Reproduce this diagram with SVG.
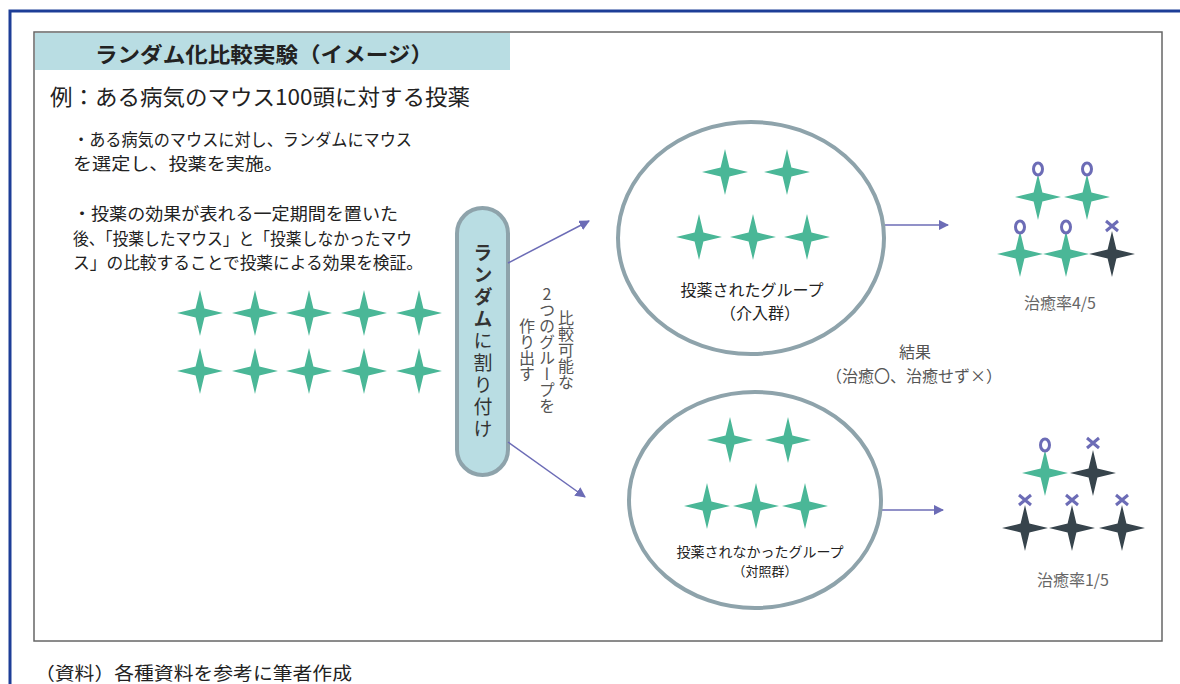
<svg xmlns="http://www.w3.org/2000/svg" xmlns:xlink="http://www.w3.org/1999/xlink" width="1180" height="684" viewBox="0 0 1180 684">
<style>
text{font-family:"Noto Sans CJK JP","Noto Sans",sans-serif;}
.t{fill:#222;}
.g{fill:#555;}
.grn{fill:#4ab797;}
.drk{fill:#37444c;}
.mk{fill:none;stroke:#6c6cb6;stroke-width:3;}
.circ{fill:#fff;stroke:#8ea3ab;stroke-width:4;}
.arr{stroke:#6c6cb6;stroke-width:1.5;fill:none;marker-end:url(#ah);}
.vt{writing-mode:vertical-rl;text-orientation:upright;}
</style>
<defs>
<marker id="ah" viewBox="0 0 10 10" refX="9" refY="5" markerWidth="7" markerHeight="7" orient="auto" markerUnits="strokeWidth">
<path d="M0,0 L10,5 L0,10 Z" fill="#6c6cb6"/>
</marker>
<path id="st" d="M0,-23 L4.4,-4.4 L23,0 L4.4,4.4 L0,23 L-4.4,4.4 L-23,0 L-4.4,-4.4 Z"/>
</defs>
<rect width="1180" height="684" fill="#fff"/>
<path d="M10,684 L10,11 L1180,11" fill="none" stroke="#1d3e97" stroke-width="3"/>
<rect x="34" y="32" width="1128" height="609" fill="none" stroke="#666" stroke-width="1.5"/>
<g id="title">
<rect x="35" y="33" width="475" height="37" fill="#b9dde3"/>
<text x="264" y="62" text-anchor="middle" font-size="21" font-weight="bold" class="t" textLength="338" lengthAdjust="spacingAndGlyphs">ランダム化比較実験（イメージ）</text>
</g>
<g id="subtitle">
<text x="50" y="105" font-size="22" class="t" textLength="420" lengthAdjust="spacingAndGlyphs">例：ある病気のマウス100頭に対する投薬</text>
</g>
<g id="description" font-size="17" class="t">
<text x="73" y="146" textLength="339" lengthAdjust="spacingAndGlyphs">・ある病気のマウスに対し、ランダムにマウス</text>
<text x="73" y="170" textLength="210" lengthAdjust="spacingAndGlyphs">を選定し、投薬を実施。</text>
<text x="73" y="220" textLength="325" lengthAdjust="spacingAndGlyphs">・投薬の効果が表れる一定期間を置いた</text>
<text x="73" y="245" textLength="339" lengthAdjust="spacingAndGlyphs">後、「投薬したマウス」と「投薬しなかったマウ</text>
<text x="73" y="269" textLength="350" lengthAdjust="spacingAndGlyphs">ス」の比較することで投薬による効果を検証。</text>
</g>
<g id="mice" class="grn">
<use xlink:href="#st" x="200" y="313"/>
<use xlink:href="#st" x="255" y="313"/>
<use xlink:href="#st" x="309" y="313"/>
<use xlink:href="#st" x="364" y="313"/>
<use xlink:href="#st" x="419" y="313"/>
<use xlink:href="#st" x="200" y="371"/>
<use xlink:href="#st" x="255" y="371"/>
<use xlink:href="#st" x="309" y="371"/>
<use xlink:href="#st" x="364" y="371"/>
<use xlink:href="#st" x="419" y="371"/>
</g>
<g id="random">
<rect x="457" y="208" width="51" height="267" rx="25.5" fill="#b9dde3" stroke="#8ea3ab" stroke-width="4"/>
<text x="483" y="342" text-anchor="middle" font-size="19" fill="#333" class="vt" letter-spacing="3"><tspan font-weight="bold">ランダム</tspan>に割り付け</text>
</g>
<g id="note" font-size="16" class="g">
<text x="566" y="350" text-anchor="middle" class="vt">比較可能な</text>
<text x="547" y="350" text-anchor="middle" class="vt">2つのグループを</text>
<text x="527" y="350" text-anchor="middle" class="vt">作り出す</text>
</g>
<g id="connectors">
<line x1="508" y1="263" x2="589" y2="221" class="arr"/>
<line x1="508" y1="442" x2="585" y2="497" class="arr"/>
<line x1="885" y1="225" x2="948" y2="225" class="arr"/>
<line x1="882" y1="510" x2="943" y2="510" class="arr"/>
</g>
<g id="treated">
<ellipse cx="751" cy="238" rx="133" ry="116" class="circ"/>
<g class="grn">
<use xlink:href="#st" x="725" y="172"/>
<use xlink:href="#st" x="787" y="172"/>
<use xlink:href="#st" x="699" y="237"/>
<use xlink:href="#st" x="753" y="237"/>
<use xlink:href="#st" x="807" y="237"/>
</g>
<text x="752" y="296" text-anchor="middle" font-size="16" class="t">投薬されたグループ</text>
<text x="760" y="319" text-anchor="middle" font-size="16" class="t">（介入群）</text>
</g>
<g id="control">
<ellipse cx="755" cy="500" rx="126" ry="108" class="circ"/>
<g class="grn">
<use xlink:href="#st" x="730" y="440"/>
<use xlink:href="#st" x="788" y="440"/>
<use xlink:href="#st" x="707" y="506"/>
<use xlink:href="#st" x="756" y="506"/>
<use xlink:href="#st" x="805" y="506"/>
</g>
<text x="760" y="557" text-anchor="middle" font-size="14" class="t">投薬されなかったグループ</text>
<text x="765" y="576" text-anchor="middle" font-size="13" class="t">（対照群）</text>
</g>
<g id="result-label" font-size="16" class="g" text-anchor="middle">
<text x="915" y="358">結果</text>
<text x="914" y="382">（治癒〇、治癒せず×）</text>
</g>
<g id="result-treated">
<use xlink:href="#st" x="1038" y="197" class="grn"/>
<use xlink:href="#st" x="1087" y="197" class="grn"/>
<use xlink:href="#st" x="1020" y="254" class="grn"/>
<use xlink:href="#st" x="1066" y="254" class="grn"/>
<use xlink:href="#st" x="1112" y="254" class="drk"/>
<ellipse cx="1038" cy="169" rx="4.5" ry="6" class="mk"/>
<ellipse cx="1087" cy="169" rx="4.5" ry="6" class="mk"/>
<ellipse cx="1020" cy="227" rx="4.5" ry="6" class="mk"/>
<ellipse cx="1066" cy="227" rx="4.5" ry="6" class="mk"/>
<path d="M1106,221 L1118,231 M1118,221 L1106,231" class="mk"/>
<text x="1060" y="309" text-anchor="middle" font-size="16" fill="#666">治癒率4/5</text>
</g>
<g id="result-control">
<use xlink:href="#st" x="1045" y="473" class="grn"/>
<use xlink:href="#st" x="1093" y="473" class="drk"/>
<use xlink:href="#st" x="1025" y="528" class="drk"/>
<use xlink:href="#st" x="1072" y="528" class="drk"/>
<use xlink:href="#st" x="1122" y="528" class="drk"/>
<ellipse cx="1045" cy="445" rx="4.5" ry="6" class="mk"/>
<path d="M1087,438 L1099,448 M1099,438 L1087,448" class="mk"/>
<path d="M1019,495 L1031,505 M1031,495 L1019,505" class="mk"/>
<path d="M1066,495 L1078,505 M1078,495 L1066,505" class="mk"/>
<path d="M1116,495 L1128,505 M1128,495 L1116,505" class="mk"/>
<text x="1073" y="586" text-anchor="middle" font-size="16" fill="#666">治癒率1/5</text>
</g>
<g id="source">
<text x="35" y="680" font-size="18" fill="#222" style="font-family:'Liberation Serif','Noto Sans CJK JP',serif" textLength="317" lengthAdjust="spacingAndGlyphs">（資料）各種資料を参考に筆者作成</text>
</g>
</svg>
